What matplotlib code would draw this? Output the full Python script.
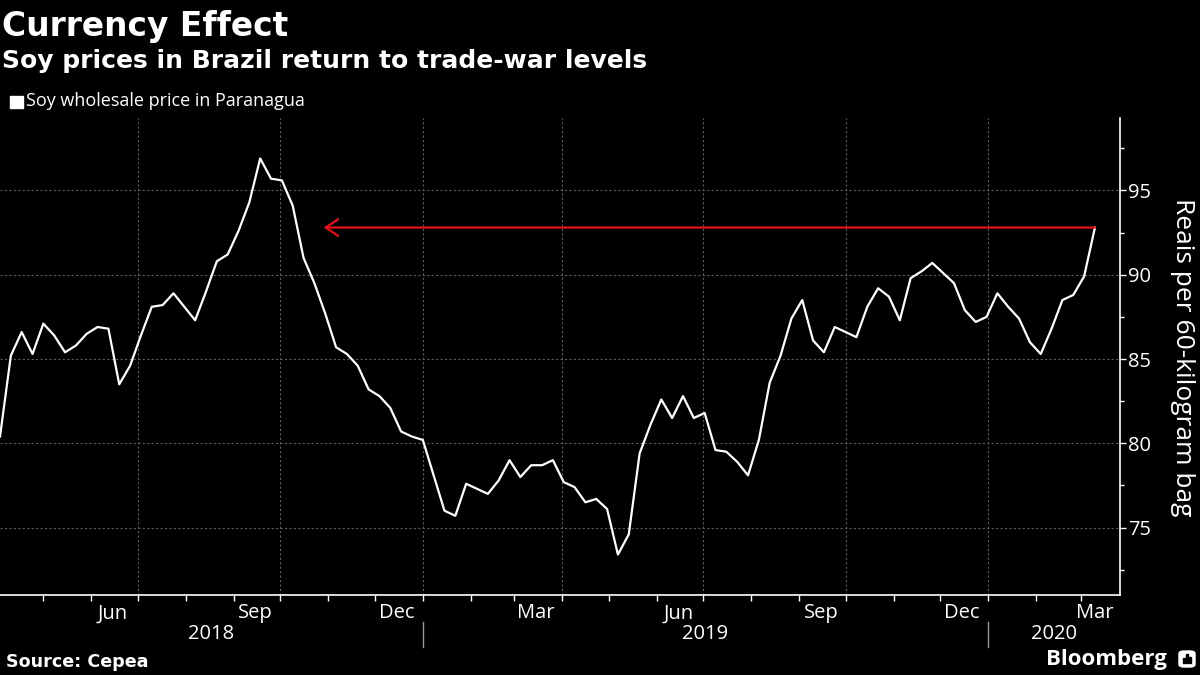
import numpy as np
import pandas as pd
import matplotlib
matplotlib.use("Agg")
import matplotlib.pyplot as plt
import matplotlib.dates as mdates
import matplotlib.transforms as mtrans
from matplotlib.patches import Rectangle, FancyBboxPatch

# weekly soy wholesale price in Paranagua, reais per 60-kg bag
dates = pd.date_range("2018-04-03", periods=102, freq="7D")
prices = [80.4, 85.2, 86.6, 85.3, 87.1, 86.4, 85.4, 85.8, 86.5, 86.9,
          86.8, 83.5, 84.6, 86.4, 88.1, 88.2, 88.9, 88.1, 87.3, 89.0,
          90.8, 91.2, 92.6, 94.3, 96.9, 95.7, 95.6, 94.1, 91.0, 89.5,
          87.7, 85.7, 85.3, 84.6, 83.2, 82.8, 82.1, 80.7, 80.4, 80.2,
          78.1, 76.0, 75.7, 77.6, 77.3, 77.0, 77.8, 79.0, 78.0, 78.7,
          78.7, 79.0, 77.7, 77.4, 76.5, 76.7, 76.1, 73.4, 74.6, 79.4,
          81.1, 82.6, 81.5, 82.8, 81.5, 81.8, 79.6, 79.5, 78.9, 78.1,
          80.2, 83.6, 85.2, 87.4, 88.5, 86.1, 85.4, 86.9, 86.6, 86.3,
          88.1, 89.2, 88.7, 87.3, 89.8, 90.2, 90.7, 90.1, 89.5, 87.9,
          87.2, 87.5, 88.9, 88.1, 87.4, 86.0, 85.3, 86.8, 88.5, 88.8,
          89.9, 92.8]
x_end = pd.Timestamp("2020-03-26")
arrow_end = pd.Timestamp("2018-10-29")
yticks = [75, 80, 85, 90, 95]
month_labels = pd.to_datetime(["2018-06-15", "2018-09-15", "2018-12-15",
                               "2019-03-15", "2019-06-15", "2019-09-15",
                               "2019-12-15", "2020-03-10"])
years = [2018, 2019, 2020]

plt.rcParams["font.family"] = ["Open Sans", "DejaVu Sans"]
bold_font = ["DejaVu Sans"]
grid_col = "#5c5c5c"

fig = plt.figure(figsize=(12, 6.75), dpi=100, facecolor="black")
ax = fig.add_axes([0, 0.1185, 0.9331, 0.7067])
ax.set_facecolor("black")

ax.plot(dates, prices, color="white", lw=1.6, zorder=3)
ax.annotate("", xy=(arrow_end, prices[-1]), xytext=(dates[-1], prices[-1]),
            arrowprops=dict(arrowstyle="->,head_length=0.6,head_width=0.4",
                            color="#e3121b", lw=1.6, mutation_scale=15,
                            shrinkA=0, shrinkB=0), zorder=4)

ax.set_xlim(dates[0], x_end)
ax.set_ylim(71.0, 99.3)

# spines
for s in ["left", "top"]:
    ax.spines[s].set_visible(False)
for s in ["right", "bottom"]:
    ax.spines[s].set_color("white")
    ax.spines[s].set_linewidth(1.2)

# y axis on the right
ax.yaxis.tick_right()
ax.set_yticks(yticks)
ax.set_yticks(np.arange(72.5, 99, 5), minor=True)
ax.tick_params(axis="y", which="major", colors="white", labelsize=14.5,
               length=4, width=1, pad=2)
ax.tick_params(axis="y", which="minor", colors="white", length=3, width=1)
ax.grid(axis="y", which="major", color=grid_col, ls=(0, (2, 2)), lw=0.8)

# x axis: month ticks, labels mid-month, grid at quarter starts
ax.xaxis.set_minor_locator(mdates.MonthLocator())
ax.set_xticks(month_labels)
ax.set_xticklabels([d.strftime("%b") for d in month_labels])
ax.tick_params(axis="x", which="major", colors="white", labelsize=14.5,
               length=0, pad=6)
ax.tick_params(axis="x", which="minor", colors="white", length=4, width=1)
for q in pd.date_range("2018-04-01", x_end, freq="QS"):
    ax.axvline(q, color=grid_col, ls=(0, (2, 2)), lw=0.8, zorder=1)

# year labels and separators below the axis
trans = mtrans.blended_transform_factory(ax.transData, ax.transAxes)
left, right = mdates.date2num(dates[0]), mdates.date2num(x_end)
for y in years:
    a = max(mdates.date2num(pd.Timestamp(f"{y}-01-01")), left)
    b = min(mdates.date2num(pd.Timestamp(f"{y + 1}-01-01")), right)
    ax.text((a + b) / 2, -0.081, str(y), transform=trans, color="white",
            fontsize=14.5, ha="center", va="center")
    if y > years[0]:
        ax.plot([a, a], [-0.057, -0.109], transform=trans, color="#9a9a9a",
                lw=1, clip_on=False)

fig.text(1182 / 1200, 0.4704, "Reais per 60-kilogram bag", rotation=270,
         color="white", fontsize=19, ha="center", va="center")

# titles
fig.text(0.002, 1 - 36 / 675, "Currency Effect", color="white", family=bold_font,
         fontsize=23.7, fontweight="bold", va="baseline")
fig.text(0.002, 1 - 68 / 675, "Soy prices in Brazil return to trade-war levels",
         color="white", family=bold_font, fontsize=18, fontweight="bold",
         va="baseline")
fig.patches.append(Rectangle((9.5 / 1200, 1 - 108 / 675), 13 / 1200, 12 / 675,
                             transform=fig.transFigure, color="white"))
fig.text(26 / 1200, 1 - 101.5 / 675, "Soy wholesale price in Paranagua",
         color="white", fontsize=13, va="center")

# footer
fig.text(0.005, 1 - 662 / 675, "Source: Cepea", color="white", family=bold_font,
         fontsize=12.6, fontweight="bold", va="center")
fig.text(1167 / 1200, 1 - 659 / 675, "Bloomberg", color="white", fontsize=16,
         fontweight="bold", ha="right", va="center")
fig.patches.append(FancyBboxPatch((1179 / 1200, 1 - 667 / 675), 16 / 1200, 16 / 675,
                                  boxstyle="round,pad=0,rounding_size=0.004",
                                  transform=fig.transFigure, color="white"))
for i, h in enumerate([5, 9, 6]):
    fig.patches.append(Rectangle(((1183 + i * 3) / 1200, 1 - 663 / 675),
                                 1.6 / 1200, h / 675,
                                 transform=fig.transFigure, color="black"))

fig.savefig("out.png", dpi=100, facecolor="black")
